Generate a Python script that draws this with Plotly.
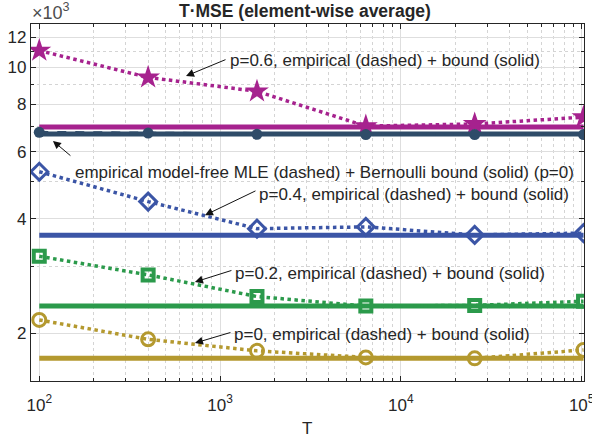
import plotly.graph_objects as go
import numpy as np

# ---- data (y in units of 10^3) ----
T = [100, 400, 1600, 6400, 25600, 102400]
emp_p06 = [11.07, 9.41, 8.65, 7.01, 7.10, 7.40]
bound_p06 = [6.97] * 6
emp_mf = [6.75, 6.72, 6.67, 6.66, 6.66, 6.66]
bound_mf = [6.68] * 6
emp_p04 = [5.32, 4.44, 3.77, 3.81, 3.63, 3.67]
bound_p04 = [3.62] * 6
emp_p02 = [3.19, 2.85, 2.50, 2.36, 2.37, 2.43]
bound_p02 = [2.36] * 6
emp_p0 = [2.17, 1.93, 1.80, 1.73, 1.72, 1.81]
bound_p0 = [1.72] * 6

y_ticks = [2, 4, 6, 8, 10, 12]
x_ticks = [100, 1000, 10000, 100000]
x_ticktext = ["10<sup>2</sup>", "10<sup>3</sup>", "10<sup>4</sup>", "10<sup>5</sup>"]

MAG = "#A6228E"
SLATE = "#2F4C69"
BLUE = "#3B55A6"
GREEN = "#2B9A4B"
GOLD = "#B4992F"

FONT = "Liberation Sans, Arial, Helvetica, sans-serif"

fig = go.Figure()

def bound(y, color):
    fig.add_trace(go.Scatter(x=T, y=y, mode="lines",
                             line=dict(color=color, width=5), showlegend=False))

def emp(y, color, symbol, size, lw, dash="dot", width=3.5, fill=None):
    fig.add_trace(go.Scatter(
        x=T, y=y, mode="lines+markers",
        line=dict(color=color, width=width, dash=dash),
        marker=dict(symbol=symbol, size=size, color=fill if fill else color,
                    line=dict(color=color, width=lw)),
        showlegend=False))

bound(bound_p06, MAG)
emp(emp_p06, MAG, "star", 18, 0)
bound(bound_mf, SLATE)
emp(emp_mf, SLATE, "circle", 11, 0, dash="dash", width=3)
bound(bound_p04, BLUE)
emp(emp_p04, BLUE, "diamond-open", 13, 3)
bound(bound_p02, GREEN)
emp(emp_p02, GREEN, "square-open", 11, 4)
bound(bound_p0, GOLD)
emp(emp_p0, GOLD, "circle-open", 13, 3)

# plot area in pixels
L, R, TOP, BOT = 31, 584, 24, 381
W, H = R - L, BOT - TOP

def px(x):
    return (x - L) / W

def py(y):
    return (BOT - y) / H

# arrows: head in data coords, tail offset in pixels
arrows = [
    (648, 9.49, 41, -17),
    (119, 6.41, 19, 16),
    (825, 4.09, 52, -25),
    (726, 2.73, 38, -12),
    (726, 1.887, 37, -11),
]
for xh, yh, dx, dy in arrows:
    fig.add_annotation(x=np.log10(xh), y=np.log10(yh), xref="x", yref="y",
                       ax=dx, ay=dy, axref="pixel", ayref="pixel",
                       text="", showarrow=True, arrowhead=2, arrowsize=1.6,
                       arrowwidth=1, arrowcolor="#111111", standoff=0, startstandoff=0)

labels = [
    ("p=0.6, empirical (dashed) + bound (solid)", 228, 61),
    ("empirical model-free MLE (dashed) + Bernoulli bound (solid) (p=0)", 73, 172),
    ("p=0.4, empirical (dashed) + bound (solid)", 257, 194),
    ("p=0.2, empirical (dashed) + bound (solid)", 233, 273),
    ("p=0, empirical (dashed) + bound (solid)", 232, 334),
]
for t, x0, y0 in labels:
    fig.add_annotation(x=px(x0), y=py(y0), xref="paper", yref="paper",
                       text=t, showarrow=False, xanchor="left", yanchor="middle",
                       font=dict(family=FONT, size=17, color="#262626"))

# title, exponent, x label
fig.add_annotation(x=px(305), y=py(11), xref="paper", yref="paper",
                   text="<b>T·MSE (element-wise average)</b>", showarrow=False,
                   xanchor="center", yanchor="middle",
                   font=dict(family=FONT, size=17.5, color="#262626"))
fig.add_annotation(x=px(30), y=py(12), xref="paper", yref="paper",
                   text="×10<sup>3</sup>", showarrow=False,
                   xanchor="left", yanchor="middle",
                   font=dict(family=FONT, size=18, color="#4d4d4d"))
fig.add_annotation(x=px(307), y=py(428), xref="paper", yref="paper",
                   text="T", showarrow=False,
                   xanchor="center", yanchor="middle",
                   font=dict(family=FONT, size=17, color="#262626"))

x_minor = [k * 10 ** d for d in range(2, 5) for k in range(2, 10)]
y_minor = [3, 5, 7, 9, 11, 13]

fig.update_xaxes(type="log", range=[np.log10(90), np.log10(103000)], automargin=False,
                 tickmode="array", tickvals=x_ticks, ticktext=x_ticktext,
                 ticks="inside", ticklen=5, tickcolor="#262626",
                 showline=True, linecolor="#262626", linewidth=1.3, mirror="ticks",
                 showgrid=True, gridcolor="#dedede", gridwidth=1,
                 zeroline=False, ticklabelstandoff=8, ticklabeloverflow="allow",
                 tickfont=dict(family=FONT, size=17, color="#262626"),
                 minor=dict(tickmode="array", tickvals=x_minor, ticks="inside",
                            ticklen=3, tickcolor="#262626", showgrid=True,
                            gridcolor="#d4d4d4", griddash="dot", gridwidth=1))
fig.update_yaxes(type="log", range=[np.log10(1.5), np.log10(13)], automargin=False,
                 tickmode="array", tickvals=y_ticks, ticktext=[str(v) for v in y_ticks],
                 ticks="inside", ticklen=5, tickcolor="#262626",
                 showline=True, linecolor="#262626", linewidth=1.3, mirror="ticks",
                 showgrid=True, gridcolor="#dedede", gridwidth=1,
                 zeroline=False,
                 tickfont=dict(family=FONT, size=17, color="#262626"),
                 minor=dict(tickmode="array", tickvals=y_minor, ticks="inside",
                            ticklen=3, tickcolor="#262626", showgrid=True,
                            gridcolor="#d4d4d4", griddash="dot", gridwidth=1))

fig.update_layout(width=592, height=440, autosize=False,
                  margin=dict(l=L, r=592 - R, t=TOP, b=440 - BOT),
                  plot_bgcolor="white", paper_bgcolor="white",
                  showlegend=False, font=dict(family=FONT))

fig.write_html("out.html", config={"displayModeBar": False},
               post_script="document.body.style.margin='0';document.body.style.overflow='hidden';")
